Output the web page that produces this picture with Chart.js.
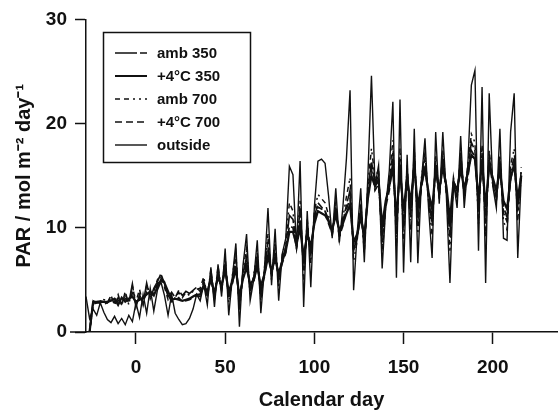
<!DOCTYPE html>
<html>
<head>
<meta charset="utf-8">
<title>PAR</title>
<script src="https://cdn.jsdelivr.net/npm/chart.js@4/dist/chart.umd.min.js"></script>
<style>
    html, body { margin: 0; padding: 0; background: #fff; }
    #wrap { width: 560px; height: 415px; }
</style>
</head>
<body>
<div id="wrap"><canvas id="parChart" width="560" height="415"></canvas></div>
<script>
// calendar day (every 2nd day)
const days = [
    -28, -26, -24, -22, -20, -18, -16, -14, -12, -10,
    -8, -6, -4, -2, 0, 2, 4, 6, 8, 10,
    12, 14, 16, 18, 20, 22, 24, 26, 28, 30,
    32, 34, 36, 38, 40, 42, 44, 46, 48, 50,
    52, 54, 56, 58, 60, 62, 64, 66, 68, 70,
    72, 74, 76, 78, 80, 82, 84, 86, 88, 90,
    92, 94, 96, 98, 100, 102, 104, 106, 108, 110,
    112, 114, 116, 118, 120, 122, 124, 126, 128, 130,
    132, 134, 136, 138, 140, 142, 144, 146, 148, 150,
    152, 154, 156, 158, 160, 162, 164, 166, 168, 170,
    172, 174, 176, 178, 180, 182, 184, 186, 188, 190,
    192, 194, 196, 198, 200, 202, 204, 206, 208, 210,
    212, 214, 216
];

const amb350 = [
    0, 0, 3.0, 2.8, 3.0, 2.9, 2.8, 3.5, 2.6, 3.3,
    2.7, 3.6, 2.8, 4.6, 2.4, 3.6, 2.7, 4.7, 3.2, 4.2,
    4.8, 5.6, 4.6, 3.4, 3.8, 3.3, 4.0, 3.5, 3.9, 3.7,
    4.0, 4.3, 3.9, 4.9, 3.6, 5.6, 3.5, 5.8, 4.2, 6.6,
    3.2, 5.0, 6.9, 2.6, 5.6, 7.2, 4.0, 5.2, 7.0, 3.6,
    5.8, 8.6, 5.4, 8.0, 5.0, 7.0, 8.2, 11.2, 10.8, 8.2,
    11.8, 6.0, 10.2, 7.4, 11.0, 12.4, 12.0, 11.6, 10.8, 9.6,
    11.8, 9.4, 10.6, 12.2, 13.6, 7.8, 9.2, 11.8, 8.4, 13.6,
    16.4, 14.2, 15.0, 8.6, 12.4, 14.4, 17.2, 9.4, 16.6, 10.0,
    15.4, 11.0, 16.8, 10.6, 14.4, 16.6, 13.0, 10.2, 16.4, 13.2,
    16.8, 13.8, 9.0, 14.6, 13.2, 16.6, 13.4, 15.6, 18.2, 17.4,
    11.6, 17.2, 10.4, 16.8, 14.6, 12.8, 16.4, 11.4, 10.6, 15.4,
    16.8, 11.6, 15.6
];

const warm350 = [
    0, 0, 2.9, 2.9, 2.9, 2.9, 2.9, 3.0, 3.2, 2.6,
    3.3, 2.9, 3.2, 3.4, 2.9, 3.1, 3.3, 3.6, 3.9, 3.5,
    4.3, 5.0, 4.7, 3.9, 3.1, 3.2, 3.1, 3.0, 3.1, 3.2,
    3.4, 3.6, 3.6, 4.4, 3.9, 5.0, 3.8, 5.2, 4.5, 5.9,
    3.9, 4.8, 6.0, 3.4, 5.1, 6.2, 4.6, 5.0, 6.3, 4.4,
    5.5, 7.2, 5.9, 7.0, 5.6, 6.8, 7.8, 9.6, 9.6, 8.4,
    10.0, 7.2, 9.4, 8.2, 10.4, 11.6, 11.4, 11.2, 10.6, 9.8,
    11.2, 9.8, 10.4, 11.4, 12.2, 8.6, 9.4, 11.0, 9.2, 12.8,
    15.0, 14.0, 14.6, 10.2, 12.6, 14.0, 15.8, 11.0, 15.6, 11.6,
    14.8, 12.4, 16.0, 12.0, 14.2, 15.6, 13.4, 11.8, 15.6, 13.6,
    15.8, 14.0, 10.8, 14.4, 13.6, 15.6, 13.8, 15.2, 17.0, 16.6,
    12.8, 16.4, 12.0, 16.0, 14.8, 13.6, 15.6, 12.6, 11.8, 14.8,
    16.0, 12.8, 15.0
];

const amb700 = [
    0, 0, 2.8, 3.1, 2.7, 3.1, 3.0, 3.2, 2.9, 3.6,
    2.5, 3.9, 2.6, 4.4, 2.9, 4.1, 2.6, 4.5, 3.6, 3.9,
    5.0, 5.5, 4.3, 3.1, 3.6, 3.2, 3.8, 3.3, 3.8, 3.5,
    3.9, 4.1, 4.2, 5.3, 3.3, 6.0, 3.2, 6.3, 4.0, 7.2,
    2.8, 5.4, 7.5, 2.0, 6.0, 8.0, 3.6, 5.5, 7.6, 3.0,
    6.1, 9.4, 5.0, 8.6, 4.4, 7.4, 8.8, 12.4, 11.6, 8.0,
    12.6, 5.0, 10.8, 6.6, 11.6, 13.2, 12.8, 12.4, 11.2, 9.2,
    12.4, 8.8, 11.0, 13.0, 14.8, 6.8, 8.8, 12.4, 7.6, 14.2,
    17.6, 14.8, 15.6, 7.4, 12.2, 14.8, 18.4, 8.2, 17.6, 8.8,
    16.0, 9.8, 17.6, 9.4, 14.8, 17.2, 12.6, 9.2, 17.0, 12.8,
    17.4, 13.6, 7.8, 14.8, 12.8, 17.2, 13.0, 16.0, 19.0, 18.2,
    10.4, 18.0, 9.2, 17.4, 14.4, 12.4, 17.0, 10.6, 9.8, 16.0,
    17.6, 10.6, 15.8
];

const warm700 = [
    0, 0, 2.7, 2.8, 2.8, 2.7, 2.8, 3.1, 2.8, 3.0,
    2.9, 3.2, 2.9, 3.7, 2.7, 3.3, 2.9, 3.8, 3.4, 3.7,
    4.6, 5.2, 4.8, 3.6, 2.9, 3.0, 3.3, 2.9, 3.0, 3.1,
    3.3, 3.5, 3.4, 4.6, 3.4, 5.3, 3.3, 5.5, 4.1, 6.2,
    3.4, 4.6, 6.4, 2.9, 5.3, 6.8, 4.2, 4.8, 6.6, 3.9,
    5.3, 7.8, 5.6, 7.4, 5.2, 6.6, 7.6, 10.2, 10.0, 8.0,
    10.8, 6.6, 9.8, 7.6, 10.8, 12.0, 11.8, 11.6, 10.4, 9.4,
    11.6, 9.2, 10.2, 11.8, 12.8, 8.0, 9.0, 11.4, 8.6, 13.2,
    15.6, 13.6, 14.2, 9.4, 12.0, 13.6, 16.4, 10.2, 16.0, 10.8,
    14.4, 11.8, 16.2, 11.2, 13.8, 16.0, 12.8, 11.0, 15.8, 13.0,
    16.2, 13.4, 10.0, 14.0, 13.0, 16.0, 13.2, 14.8, 17.4, 16.8,
    12.2, 16.6, 11.2, 16.2, 14.2, 13.0, 15.8, 12.0, 11.0, 14.6,
    16.2, 12.0, 14.8
];

const outside = [
    3.4, 1.3, 2.2, 1.6, 2.8, 1.9, 1.2, 0.9, 1.5, 0.8,
    1.3, 0.7, 1.6, 1.0, 2.8, 1.4, 3.6, 1.8, 4.2, 2.0,
    4.0, 4.8, 3.5, 1.6, 3.6, 1.8, 1.2, 0.7, 0.8, 1.3,
    2.2, 3.6, 3.0, 4.6, 2.6, 6.2, 2.4, 6.5, 3.4, 8.0,
    1.6, 5.2, 8.5, 0.5, 6.4, 9.4, 3.0, 5.0, 8.8, 1.8,
    6.0, 11.9, 4.5, 9.9, 3.0, 7.5, 9.0, 15.9, 15.1, 8.0,
    16.4, 2.4, 11.6, 4.3, 12.0, 16.4, 16.6, 16.2, 13.0, 9.0,
    13.8, 8.6, 12.0, 16.7, 23.2, 4.0, 9.5, 13.8, 6.7, 15.0,
    24.6, 14.0, 16.0, 6.1, 12.0, 15.5, 22.1, 5.2, 22.3, 5.7,
    17.0, 6.7, 19.5, 6.6, 14.5, 18.6, 11.9, 7.1, 19.2, 12.3,
    19.2, 13.0, 4.7, 14.5, 11.9, 18.8, 11.9, 16.0, 23.7, 25.1,
    7.8, 23.5, 4.7, 22.9, 14.0, 11.9, 19.5, 9.0, 8.8, 19.2,
    22.9, 7.1, 15.0
];

const seriesLabels = ['amb 350', '+4°C 350', 'amb 700', '+4°C 700', 'outside'];
const xTicks = [0, 50, 100, 150, 200];
const yTicks = [0, 10, 20, 30];

const INK = '#111';
const FONT = "'Liberation Sans', Arial, Helvetica, sans-serif";

// legend drawn inside the plot, framed like the original
const boxLegend = {
    id: 'boxLegend',
    afterDraw(chart) {
        const ctx = chart.ctx;
        const area = chart.chartArea;
        ctx.save();

        // x axis runs a bit past the y axis on the left
        ctx.strokeStyle = INK;
        ctx.lineWidth = 1.5;
        ctx.beginPath();
        ctx.moveTo(70, area.bottom);
        ctx.lineTo(area.left, area.bottom);
        ctx.stroke();

        const bx = 103.5, by = 32.5, bw = 147, bh = 130;
        ctx.fillStyle = '#fff';
        ctx.fillRect(bx, by, bw, bh);
        ctx.strokeRect(bx, by, bw, bh);

        ctx.font = 'bold 15px ' + FONT;
        ctx.textBaseline = 'middle';
        ctx.textAlign = 'left';
        chart.data.datasets.forEach((ds, i) => {
            const y = 53 + i * 23;
            ctx.strokeStyle = ds.borderColor;
            ctx.lineWidth = Math.min(ds.borderWidth, 2);
            ctx.setLineDash(ds.borderDash || []);
            ctx.beginPath();
            ctx.moveTo(115, y);
            ctx.lineTo(147, y);
            ctx.stroke();
            ctx.setLineDash([]);
            ctx.fillStyle = INK;
            ctx.fillText(ds.label, 157, y + 1);
        });
        ctx.restore();
    }
};

function toPoints(values) {
    return days.map((d, i) => ({ x: d, y: values[i] }));
}

function initParChart() {
    const canvas = document.getElementById('parChart');

    const styles = [
        { borderWidth: 1.6, borderDash: [22, 3, 7, 3] },
        { borderWidth: 2.2, borderDash: [] },
        { borderWidth: 1.5, borderDash: [5, 4, 5, 4, 2, 4, 2, 4] },
        { borderWidth: 1.7, borderDash: [7, 4] },
        { borderWidth: 1.4, borderDash: [] }
    ];
    const series = [amb350, warm350, amb700, warm700, outside];

    new Chart(canvas, {
        type: 'line',
        data: {
            datasets: series.map((vals, i) => ({
                label: seriesLabels[i],
                data: toPoints(vals),
                borderColor: INK,
                borderWidth: styles[i].borderWidth,
                borderDash: styles[i].borderDash,
                pointRadius: 0,
                tension: 0,
                fill: false
            }))
        },
        options: {
            responsive: false,
            animation: false,
            devicePixelRatio: 1,
            layout: { padding: { top: 16, right: 3, left: 0, bottom: 0 } },
            scales: {
                x: {
                    type: 'linear',
                    min: -28,
                    max: 236,
                    afterBuildTicks: s => { s.ticks = xTicks.map(v => ({ value: v })); },
                    afterFit: s => { s.height = 83; },
                    ticks: {
                        color: INK,
                        padding: 12,
                        font: { family: FONT, size: 19, weight: 'bold' }
                    },
                    grid: { drawOnChartArea: false, tickLength: 12, tickColor: INK, tickWidth: 1.5 },
                    border: { color: INK, width: 1.5 },
                    title: {
                        display: true,
                        text: 'Calendar day',
                        color: INK,
                        padding: { top: 0, bottom: 3 },
                        font: { family: FONT, size: 20, weight: 'bold' }
                    }
                },
                y: {
                    min: 0,
                    max: 30,
                    afterBuildTicks: s => { s.ticks = yTicks.map(v => ({ value: v })); },
                    afterFit: s => { s.width = 86; },
                    ticks: {
                        color: INK,
                        padding: 8,
                        font: { family: FONT, size: 19, weight: 'bold' }
                    },
                    grid: { drawOnChartArea: false, tickLength: 11, tickColor: INK, tickWidth: 1.5 },
                    border: { color: INK, width: 1.5 },
                    title: {
                        display: true,
                        text: 'PAR / mol m⁻² day⁻¹',
                        color: INK,
                        padding: { top: 12, bottom: 0 },
                        font: { family: FONT, size: 20, weight: 'bold' }
                    }
                }
            },
            plugins: {
                legend: { display: false },
                tooltip: { enabled: false }
            }
        },
        plugins: [boxLegend]
    });
}

document.addEventListener('DOMContentLoaded', initParChart);
</script>
</body>
</html>
